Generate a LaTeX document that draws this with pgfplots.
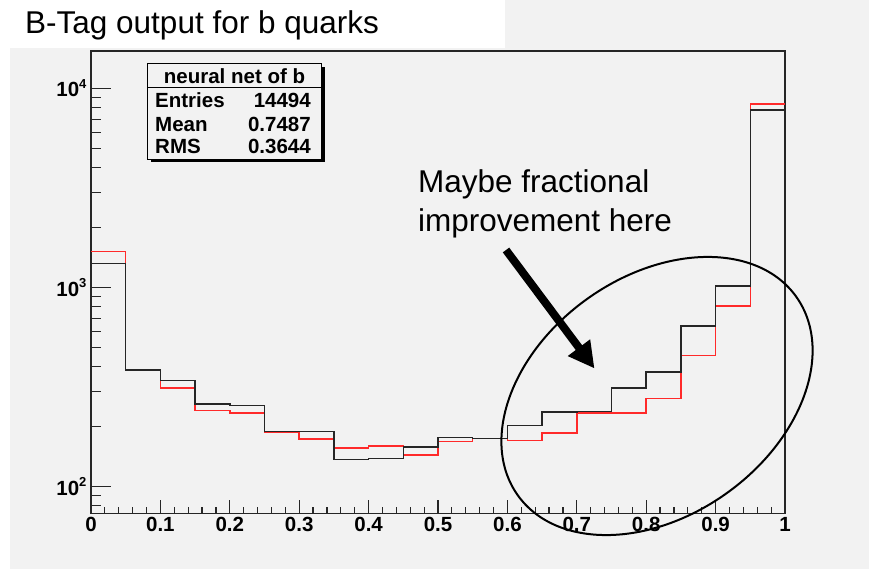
\documentclass[border=0pt]{standalone}
\usepackage{pgfplots}
\pgfplotsset{compat=1.18}
\usepackage{fontspec}
\setmainfont{Liberation Sans}
\usetikzlibrary{arrows.meta}
\definecolor{canvas}{HTML}{F2F2F2}
\definecolor{histred}{HTML}{FF2A2A}
\definecolor{histblack}{HTML}{262626}

% neural-net output, 20 bins on [0,1]; last row repeats the final bin for the step outline
\pgfplotstableread{
x     b
0.00  1320
0.05  383
0.10  340
0.15  259
0.20  255
0.25  188
0.30  188
0.35  136
0.40  138
0.45  158
0.50  176
0.55  174
0.60  202
0.65  236
0.70  237
0.75  312
0.80  376
0.85  640
0.90  1016
0.95  7785
1.00  7785
}\netblack
\pgfplotstableread{
x     b
0.00  1511
0.05  383
0.10  312
0.15  241
0.20  234
0.25  186
0.30  173
0.35  156
0.40  159
0.45  144
0.50  168
0.55  174
0.60  170
0.65  185
0.70  234
0.75  234
0.80  276
0.85  455
0.90  804
0.95  8350
1.00  8350
}\netred

\newcommand{\tickfont}{\fontsize{20.5}{24}\selectfont\bfseries}
\newcommand{\decade}[1]{10\raisebox{0.42em}{\fontsize{13}{13}\selectfont\bfseries #1}}

\begin{document}
\begin{tikzpicture}
% canvas
\fill[white] (0pt,0pt) rectangle (870pt,571pt);
\fill[canvas] (9.5pt,2pt) rectangle (869pt,571pt);
\fill[white] (0pt,523pt) rectangle (505pt,571pt);
\node[anchor=base west,inner sep=0pt,font=\fontsize{31.5}{38}\selectfont] at (25pt,537pt) {B-Tag output for b quarks};

\begin{axis}[
  at={(91pt,57.5pt)}, anchor=south west,
  width=694pt, height=462.5pt, scale only axis,
  ymode=log, xmin=0, xmax=1, ymin=73, ymax=15400,
  axis background/.style={fill=canvas},
  axis line style={histblack, line width=1.4pt},
  tick align=inside, xtick pos=bottom, ytick pos=left,
  xtick={0,0.1,0.2,0.3,0.4,0.5,0.6,0.7,0.8,0.9,1},
  xticklabels={0,0.1,0.2,0.3,0.4,0.5,0.6,0.7,0.8,0.9,1},
  minor x tick num=4,
  ytick={100,1000,10000},
  yticklabels={\decade{2},\decade{3},\decade{4}},
  minor ytick={80,90,200,300,400,500,600,700,800,900,2000,3000,4000,5000,6000,7000,8000,9000},
  major tick length=20pt, minor tick length=10pt,
  xtick style={/pgfplots/major tick length=14pt,/pgfplots/minor tick length=7pt},
  tick style={histblack, line width=1.2pt},
  ticklabel style={font=\tickfont},
  yticklabel style={xshift=-1pt},
  clip=true,
]
\addplot[const plot mark left, histred, line width=1.5pt] table[x=x,y=b] {\netred};
\addplot[const plot mark left, histblack, line width=1.5pt] table[x=x,y=b] {\netblack};
\end{axis}

% statistics box
\fill[black] (150.5pt,408.5pt) rectangle (324.9pt,504pt);
\filldraw[fill=canvas, draw=black, line width=1pt] (147.3pt,411.7pt) rectangle (321.7pt,507pt);
\draw[black, line width=1pt] (147.3pt,483.3pt) -- (321.7pt,483.3pt);
\begin{scope}[every node/.style={inner sep=0pt, font=\fontsize{20.5}{24}\selectfont\bfseries}]
\node[anchor=base] at (234.5pt,487pt) {neural net of b};
\node[anchor=base west] at (155pt,463pt) {Entries};
\node[anchor=base east] at (311pt,463pt) {14494};
\node[anchor=base west] at (155pt,439.3pt) {Mean};
\node[anchor=base east] at (311pt,439.3pt) {0.7487};
\node[anchor=base west] at (155pt,417pt) {RMS};
\node[anchor=base east] at (311pt,417pt) {0.3644};
\end{scope}

% annotation
\begin{scope}[every node/.style={inner sep=0pt, anchor=base west, font=\fontsize{31.5}{38}\selectfont}]
\node at (418pt,378pt) {Maybe fractional};
\node at (418pt,339pt) {improvement here};
\end{scope}
\draw[line width=8pt, -{Triangle[length=26pt,width=26pt]}] (506pt,321pt) -- (594.5pt,202.5pt);
\draw[line width=2pt] (657pt,175pt) ellipse[x radius=171pt, y radius=119.6pt, rotate=35.5];
\end{tikzpicture}
\end{document}
